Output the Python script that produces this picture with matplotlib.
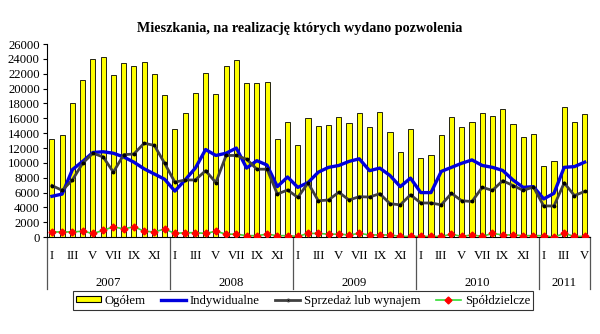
import numpy as np
import matplotlib.pyplot as plt
from matplotlib.patches import Patch
from matplotlib.lines import Line2D

plt.rcParams['font.family'] = ['Liberation Serif', 'DejaVu Serif']

# dane miesięczne I 2007 - V 2011
years = ['2007', '2008', '2009', '2010', '2011']
months_in_year = [12, 12, 12, 12, 5]
roman = ['I', 'II', 'III', 'IV', 'V', 'VI', 'VII', 'VIII', 'IX', 'X', 'XI', 'XII']

ogolem = [13200, 13800, 18000, 21100, 24000, 24200, 21800, 23400, 23100, 23600, 22000, 19100,
          14600, 16700, 19400, 22100, 19300, 23000, 23900, 20800, 20800, 20900, 13200, 15500,
          12400, 16000, 15000, 15100, 16200, 15400, 16700, 14900, 16800, 14100, 11500, 14600,
          10600, 11100, 13700, 16200, 14900, 15500, 16700, 16300, 17200, 15200, 13500, 13900,
          9600, 10200, 17500, 15500, 16600]
indywidualne = [5500, 5800, 9100, 10200, 11400, 11500, 11300, 10800, 10100, 9200, 8500, 7800,
                6200, 7700, 9300, 11800, 11000, 11300, 12000, 9300, 10300, 9700, 6800, 8100,
                6700, 7350, 8750, 9400, 9650, 10200, 10550, 8950, 9300, 8300, 6800, 7950,
                6000, 6000, 8850, 9400, 9950, 10400, 9650, 9400, 8980, 7700, 6700, 6800,
                5150, 5900, 9400, 9500, 10100]
sprzedaz = [6950, 6300, 7700, 9950, 11300, 10800, 8750, 11100, 11200, 12650, 12350, 9950,
            7400, 7700, 7700, 8950, 7350, 11000, 11000, 10500, 9150, 9150, 5800, 6350,
            5350, 7300, 4900, 5000, 6050, 5000, 5450, 5400, 5850, 4500, 4350, 5700,
            4600, 4600, 4350, 5900, 4900, 4800, 6700, 6300, 7600, 6950, 6300, 6750,
            4200, 4200, 7300, 5600, 6150]
spoldzielcze = [700, 700, 700, 800, 500, 900, 1400, 1100, 1400, 800, 700, 1100,
                500, 600, 600, 500, 800, 400, 400, 200, 200, 400, 200, 200,
                100, 500, 500, 400, 400, 300, 500, 300, 300, 300, 100, 100,
                100, 100, 100, 400, 100, 300, 100, 500, 300, 300, 200, 200,
                200, 0, 500, 100, 100]

x = np.arange(len(ogolem))
fs = 9.2

fig = plt.figure(figsize=(6.0, 3.34), dpi=100)
ax = fig.add_axes([0.078, 0.29, 0.905, 0.578])

ax.bar(x, ogolem, width=0.5, color='#FFFF00', edgecolor='black', linewidth=0.6, zorder=2)
ax.plot(x, indywidualne, color='#0000DD', linewidth=2.4, zorder=3)
ax.plot(x, sprzedaz, color='#404040', linewidth=2.0, marker='o', markersize=1.8,
        markerfacecolor='black', markeredgecolor='black', zorder=3)
ax.plot(x, spoldzielcze, color='#33DD33', linewidth=1.2, marker='D', markersize=3.5,
        markerfacecolor='#FF0000', markeredgecolor='#FF0000', zorder=4)

ax.set_xlim(-0.5, len(ogolem) - 0.5)
ax.set_ylim(0, 26000)
ax.set_yticks(np.arange(0, 26001, 2000))
ax.tick_params(axis='y', labelsize=fs, length=3, direction='out', pad=2)

# etykiety miesięcy (co drugi)
labels = []
for n in months_in_year:
    for m in range(n):
        labels.append(roman[m] if m % 2 == 0 else '')
ax.set_xticks(x)
ax.set_xticklabels(labels)
ax.tick_params(axis='x', labelsize=fs, length=0, pad=9)

for s in ['top', 'right']:
    ax.spines[s].set_visible(False)
ax.spines['left'].set_linewidth(0.8)
ax.spines['bottom'].set_linewidth(0.8)

# separatory lat i etykiety lat
trans = ax.get_xaxis_transform()
start = 0
bounds = [-0.5]
for y, n in zip(years, months_in_year):
    ax.text(start + (n - 1) / 2, -0.235, y, transform=trans, ha='center', va='center', fontsize=fs)
    start += n
    bounds.append(start - 0.5)
for b in bounds:
    ax.plot([b, b], [0, -0.27], transform=trans, color='#555555', linewidth=0.9, clip_on=False)

fig.text(0.5, 0.915, 'Mieszkania, na realizację których wydano pozwolenia',
         ha='center', va='center', fontsize=10.2, fontweight='bold')

handles = [Patch(facecolor='#FFFF00', edgecolor='black', linewidth=0.8),
           Line2D([], [], color='#0000DD', linewidth=2.4),
           Line2D([], [], color='#404040', linewidth=2.0, marker='o', markersize=1.8,
                  markerfacecolor='black'),
           Line2D([], [], color='#33DD33', linewidth=1.2, marker='D', markersize=3.5,
                  markerfacecolor='#FF0000', markeredgecolor='#FF0000')]
leg = fig.legend(handles, ['Ogółem', 'Indywidualne', 'Sprzedaż lub wynajem', 'Spółdzielcze'],
                 loc='center', bbox_to_anchor=(0.505, 0.1), ncol=4, fontsize=fs,
                 frameon=True, fancybox=False, edgecolor='black', handlelength=1.95,
                 handleheight=0.45, handletextpad=0.3, columnspacing=1.2, borderpad=0.25,
                 borderaxespad=0)
leg.get_frame().set_linewidth(0.8)

fig.savefig('out.png', dpi=100)
